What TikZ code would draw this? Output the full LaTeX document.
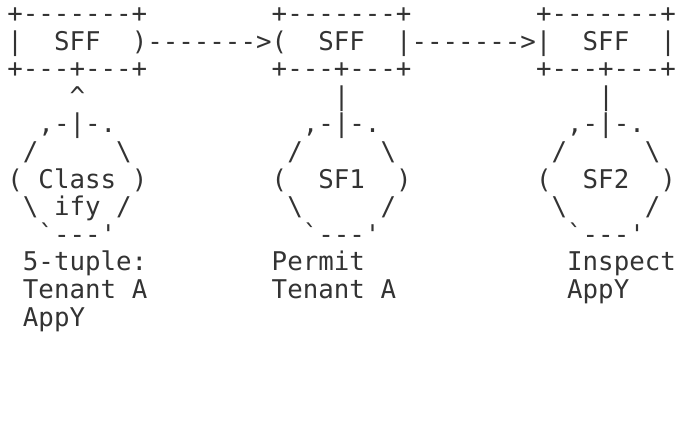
\documentclass[tikz,border=0pt]{standalone}
\usepackage{fontspec}
\setmonofont{DejaVu Sans Mono}
\usepackage{tikz}

\definecolor{ink}{HTML}{333333}
\tikzset{ascii/.style={anchor=mid west, inner sep=0pt, text=ink, font=\ttfamily\fontsize{25.8}{27.6}\selectfont}}

\begin{document}
\begin{tikzpicture}[x=15.55pt, y=-27.6pt]

	\useasboundingbox (-0.463,-0.74) rectangle (43.27,14.59);

	% boxes
	\node[ascii] (topa) at (0, 0)     {+-------+};
	\node[ascii] (topb) at (17, 0)    {+-------+};
	\node[ascii] (topc) at (34, 0)    {+-------+};
	\node[ascii] (lefta) at (0, 1)    {|};
	\node[ascii] (sffa) at (3, 1)     {SFF};
	\node[ascii] (arrab) at (8, 1)    {)------->(};
	\node[ascii] (sffb) at (20, 1)    {SFF};
	\node[ascii] (arrbc) at (25, 1)   {|------->|};
	\node[ascii] (sffc) at (37, 1)    {SFF};
	\node[ascii] (rightc) at (42, 1)  {|};
	\node[ascii] (bota) at (0, 2)     {+---+---+};
	\node[ascii] (botb) at (17, 2)    {+---+---+};
	\node[ascii] (botc) at (34, 2)    {+---+---+};

	% links down
	\node[ascii] (upa) at (4, 3)      {\textasciicircum};
	\node[ascii] (downb) at (21, 3)   {|};
	\node[ascii] (downc) at (38, 3)   {|};

	% function shapes
	\node[ascii] (capa) at (2, 4)     {,-|-.};
	\node[ascii] (capb) at (19, 4)    {,-|-.};
	\node[ascii] (capc) at (36, 4)    {,-|-.};
	\node[ascii] (nwa) at (1, 5)      {/};
	\node[ascii] (nea) at (7, 5)      {\textbackslash};
	\node[ascii] (nwb) at (18, 5)     {/};
	\node[ascii] (neb) at (24, 5)     {\textbackslash};
	\node[ascii] (nwc) at (35, 5)     {/};
	\node[ascii] (nec) at (41, 5)     {\textbackslash};
	\node[ascii] (wa) at (0, 6)       {(};
	\node[ascii] (classa) at (2, 6)   {Class};
	\node[ascii] (ea) at (8, 6)       {)};
	\node[ascii] (wb) at (17, 6)      {(};
	\node[ascii] (sfone) at (20, 6)   {SF1};
	\node[ascii] (eb) at (25, 6)      {)};
	\node[ascii] (wc) at (34, 6)      {(};
	\node[ascii] (sftwo) at (37, 6)   {SF2};
	\node[ascii] (ec) at (42, 6)      {)};
	\node[ascii] (swa) at (1, 7)      {\textbackslash};
	\node[ascii] (ifya) at (3, 7)     {ify};
	\node[ascii] (sea) at (7, 7)      {/};
	\node[ascii] (swb) at (18, 7)     {\textbackslash};
	\node[ascii] (seb) at (24, 7)     {/};
	\node[ascii] (swc) at (35, 7)     {\textbackslash};
	\node[ascii] (sec) at (41, 7)     {/};
	\node[ascii] (basea) at (2, 8)    {\textasciigrave---\textquotesingle};
	\node[ascii] (baseb) at (19, 8)   {\textasciigrave---\textquotesingle};
	\node[ascii] (basec) at (36, 8)   {\textasciigrave---\textquotesingle};

	% rules
	\node[ascii] (rulea) at (1, 9)    {5-tuple:};
	\node[ascii] (ruleb) at (17, 9)   {Permit};
	\node[ascii] (rulec) at (36, 9)   {Inspect};
	\node[ascii] (tena) at (1, 10)    {Tenant};
	\node[ascii] (tenaa) at (8, 10)   {A};
	\node[ascii] (tenb) at (17, 10)   {Tenant};
	\node[ascii] (tenba) at (24, 10)  {A};
	\node[ascii] (appc) at (36, 10)   {AppY};
	\node[ascii] (appa) at (1, 11)    {AppY};

\end{tikzpicture}
\end{document}
